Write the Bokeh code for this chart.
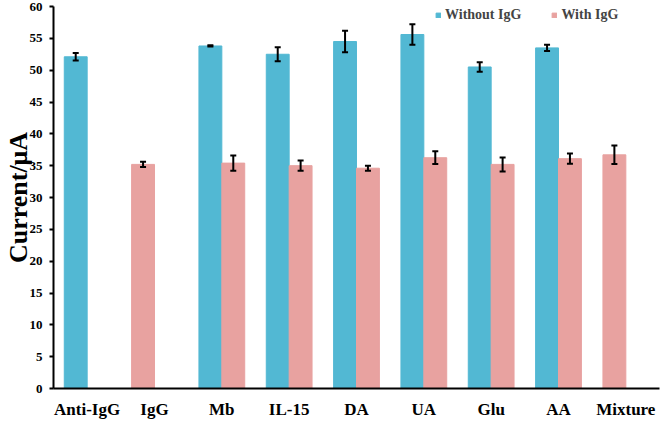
from bokeh.plotting import figure
from bokeh.models import (ColumnDataSource, Range1d, FactorRange, Whisker, TeeHead,
                          Legend, LegendItem)
from bokeh.transform import dodge
from bokeh.embed import file_html
from bokeh.resources import INLINE

# ---- data ----
categories = ["Anti-IgG", "IgG", "Mb", "IL-15", "DA", "UA", "Glu", "AA", "Mixture"]
without_igg = [52.1, None, 53.8, 52.5, 54.5, 55.6, 50.5, 53.5, None]
without_err = [0.6, None, 0.1, 1.1, 1.7, 1.6, 0.75, 0.5, None]
with_igg = [None, 35.2, 35.4, 35.0, 34.6, 36.25, 35.2, 36.1, 36.7]
with_err = [None, 0.4, 1.2, 0.8, 0.4, 1.0, 1.1, 0.8, 1.45]
y_ticks = list(range(0, 61, 5))

BLUE = "#52b8d3"
PINK = "#e8a2a0"
FONT = "Liberation Serif"

def make_src(cats, vals, errs):
    return ColumnDataSource(dict(
        cat=cats, val=vals,
        up=[v + e for v, e in zip(vals, errs)],
        lo=[v - e for v, e in zip(vals, errs)],
    ))

b_idx = [i for i, v in enumerate(without_igg) if v is not None]
src_blue = make_src([categories[i] for i in b_idx], [without_igg[i] for i in b_idx],
                    [without_err[i] for i in b_idx])
# pink bars next to a blue bar sit on the right slot; lone pink bars take the left slot
pr_idx = [i for i, v in enumerate(with_igg) if v is not None and without_igg[i] is not None]
pl_idx = [i for i, v in enumerate(with_igg) if v is not None and without_igg[i] is None]
src_pink_r = make_src([categories[i] for i in pr_idx], [with_igg[i] for i in pr_idx],
                      [with_err[i] for i in pr_idx])
src_pink_l = make_src([categories[i] for i in pl_idx], [with_igg[i] for i in pl_idx],
                      [with_err[i] for i in pl_idx])

p = figure(width=661, height=421, x_range=FactorRange(*categories, range_padding=0),
           y_range=Range1d(0, 60), output_backend="svg", toolbar_location=None,
           min_border_left=0, min_border_right=2, min_border_top=6, min_border_bottom=0)
p.outline_line_color = None
p.xgrid.visible = False
p.ygrid.visible = False
p.background_fill_color = "white"
p.border_fill_color = "white"

W = 0.34
OFF = 0.17
rb = p.vbar(x=dodge("cat", -OFF, range=p.x_range), top="val", width=W, source=src_blue,
            fill_color=BLUE, line_color=BLUE)
rp = p.vbar(x=dodge("cat", OFF, range=p.x_range), top="val", width=W, source=src_pink_r,
            fill_color=PINK, line_color=PINK)
p.vbar(x=dodge("cat", -OFF, range=p.x_range), top="val", width=W, source=src_pink_l,
       fill_color=PINK, line_color=PINK)

for src, off in ((src_blue, -OFF), (src_pink_r, OFF), (src_pink_l, -OFF)):
    w = Whisker(source=src, base=dodge("cat", off, range=p.x_range), upper="up", lower="lo",
                line_color="black", line_width=2, level="overlay",
                upper_head=TeeHead(size=6, line_width=2, line_color="black"),
                lower_head=TeeHead(size=6, line_width=2, line_color="black"))
    p.add_layout(w)

# axes
p.yaxis.ticker = y_ticks
p.yaxis.axis_line_width = 2
p.yaxis.axis_line_color = "black"
p.yaxis.major_tick_line_width = 2
p.yaxis.major_tick_out = 4
p.yaxis.major_tick_in = 0
p.yaxis.minor_tick_line_color = None
p.yaxis.major_label_text_font = FONT
p.yaxis.major_label_text_font_style = "bold"
p.yaxis.major_label_text_font_size = "13px"
p.yaxis.major_label_text_color = "black"
p.yaxis.major_label_standoff = 7
p.yaxis.axis_label = "Current/μA"
p.yaxis.axis_label_text_font = FONT
p.yaxis.axis_label_text_font_style = "bold"
p.yaxis.axis_label_text_font_size = "26px"
p.yaxis.axis_label_text_color = "black"
p.yaxis.axis_label_standoff = -6

p.xaxis.axis_line_width = 2
p.xaxis.axis_line_color = "black"
p.xaxis.major_tick_line_color = None
p.xaxis.minor_tick_line_color = None
p.xaxis.major_tick_out = 0
p.xaxis.major_tick_in = 0
p.xaxis.major_label_text_font = FONT
p.xaxis.major_label_text_font_style = "bold"
p.xaxis.major_label_text_font_size = "17px"
p.xaxis.major_label_text_color = "black"
p.xaxis.major_label_standoff = 11

legend = Legend(items=[LegendItem(label="Without IgG", renderers=[rb]),
                       LegendItem(label="With IgG", renderers=[rp])],
                orientation="horizontal", location=(382, 365),
                glyph_width=6, glyph_height=6, label_standoff=4, spacing=30,
                label_width=75,
                label_text_font=FONT, label_text_font_style="bold",
                label_text_font_size="14px", label_height=14,
                padding=0, margin=0, border_line_color=None, background_fill_alpha=0)
p.add_layout(legend)

open("out.html", "w").write(file_html(p, INLINE))
